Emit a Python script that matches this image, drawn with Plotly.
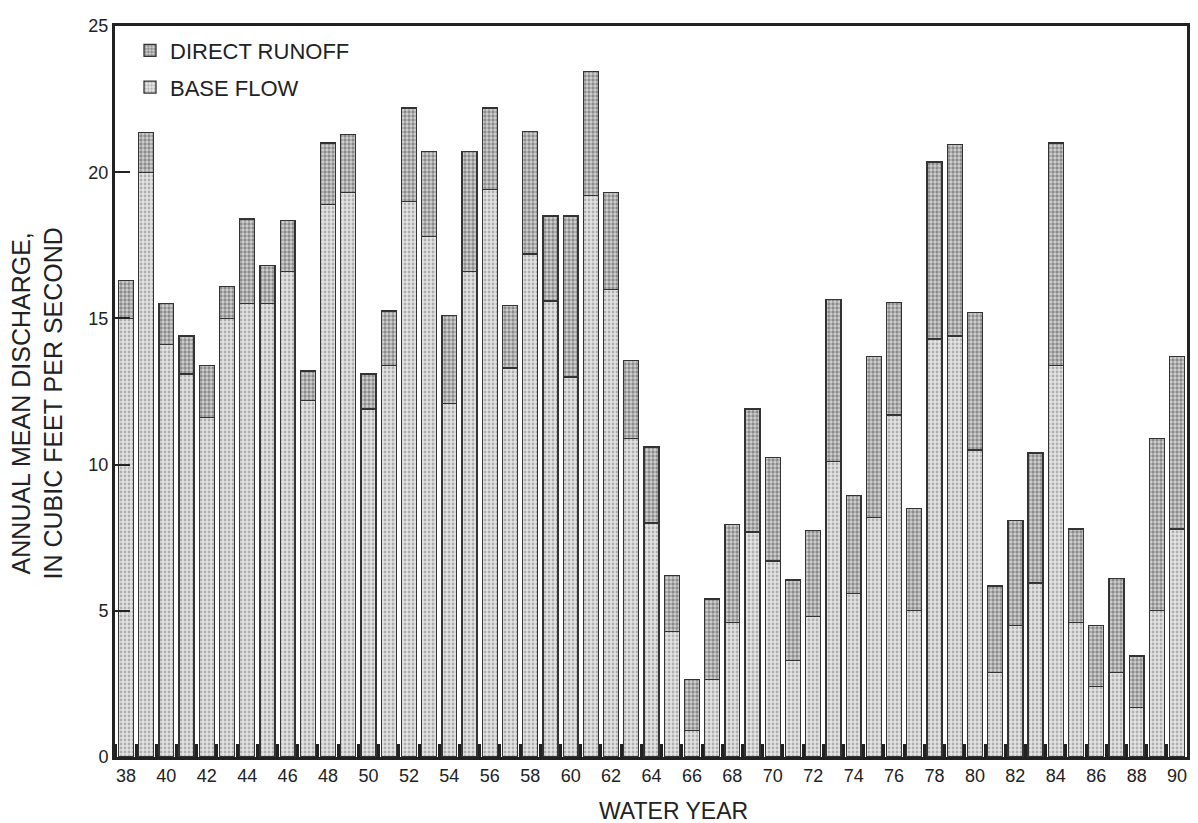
import plotly.graph_objects as go

years = list(range(1938, 1991))
base_flow = [15.0, 20.0, 14.1, 13.1, 11.6, 15.0, 15.5, 15.5, 16.6, 12.2,
             18.9, 19.3, 11.9, 13.4, 19.0, 17.8, 12.1, 16.6, 19.4, 13.3,
             17.2, 15.6, 13.0, 19.2, 16.0, 10.9, 8.0, 4.3, 0.9, 2.65,
             4.6, 7.7, 6.7, 3.3, 4.8, 10.1, 5.6, 8.2, 11.7, 5.0,
             14.3, 14.4, 10.5, 2.9, 4.5, 5.95, 13.4, 4.6, 2.4, 2.9,
             1.7, 5.0, 7.8]
direct_runoff = [1.3, 1.35, 1.4, 1.3, 1.8, 1.1, 2.9, 1.3, 1.75, 1.0,
                 2.1, 2.0, 1.2, 1.85, 3.2, 2.9, 3.0, 4.1, 2.8, 2.15,
                 4.2, 2.9, 5.5, 4.25, 3.3, 2.65, 2.6, 1.9, 1.75, 2.75,
                 3.35, 4.2, 3.55, 2.75, 2.95, 5.55, 3.35, 5.5, 3.85, 3.5,
                 6.05, 6.55, 4.7, 2.95, 3.6, 4.45, 7.6, 3.2, 2.1, 3.2,
                 1.75, 5.9, 5.9]
tick_years = list(range(1938, 1991, 2))
tick_labels = [str(y % 100) for y in tick_years]
y_ticks = [0, 5, 10, 15, 20, 25]

font_family = "Liberation Sans, Arial, sans-serif"
outline = "#333333"
ink = "#222222"

fig = go.Figure()
fig.add_trace(go.Bar(
    x=years, y=base_flow, name="BASE FLOW", width=0.74,
    legendgroup="base", legendrank=2,
    marker=dict(color="#e2e2e2",
                line=dict(color=outline, width=1.3),
                pattern=dict(shape=".", fgcolor="#7a7a7a", bgcolor="#e4e4e4",
                             size=4, solidity=0.4)),
))
fig.add_trace(go.Bar(
    x=years, y=direct_runoff, name="DIRECT RUNOFF", width=0.74,
    legendgroup="runoff", legendrank=1,
    marker=dict(color="#cfcfcf",
                line=dict(color=outline, width=1.3),
                pattern=dict(shape=".", fgcolor="#444444", bgcolor="#d2d2d2",
                             size=4, solidity=0.55)),
))

fig.update_layout(
    width=1190, height=815,
    barmode="stack",
    plot_bgcolor="white", paper_bgcolor="white",
    margin=dict(l=107, r=8, t=8, b=66),
    font=dict(family=font_family, size=18, color=ink),
    showlegend=True,
    legend=dict(
        x=0.014, y=0.995, xanchor="left", yanchor="top",
        traceorder="grouped", tracegroupgap=5,
        bgcolor="rgba(0,0,0,0)",
        font=dict(family=font_family, size=22, color=ink),
        itemwidth=30,
    ),
    xaxis=dict(
        range=[1937.46, 1990.49],
        tickvals=tick_years, ticktext=tick_labels,
        ticks="", showgrid=False, zeroline=False,
        showline=True, linecolor=ink, linewidth=3, mirror=True,
        tickfont=dict(size=18),
        minor=dict(ticks="inside", tick0=1937.5, dtick=1, ticklen=13,
                   tickwidth=3, tickcolor=ink, showgrid=False),
    ),
    yaxis=dict(
        range=[0, 25], tickvals=y_ticks,
        ticks="inside", ticklen=15, tickwidth=2, tickcolor=ink,
        showgrid=False, zeroline=False,
        showline=True, linecolor=ink, linewidth=3, mirror=True,
        tickfont=dict(size=18),
    ),
    annotations=[
        dict(text="WATER YEAR", xref="paper", yref="paper", x=0.5, y=0,
             xanchor="center", yanchor="middle", xshift=22, yshift=-54,
             showarrow=False, font=dict(size=23, color=ink)),
        dict(text="ANNUAL MEAN DISCHARGE,<br>IN CUBIC FEET PER SECOND",
             xref="paper", yref="paper", x=0, y=0.5, textangle=-90,
             xanchor="center", yanchor="middle", xshift=-78, yshift=-12,
             showarrow=False, font=dict(size=25, color=ink)),
    ],
)

fig.write_html("out.html")
